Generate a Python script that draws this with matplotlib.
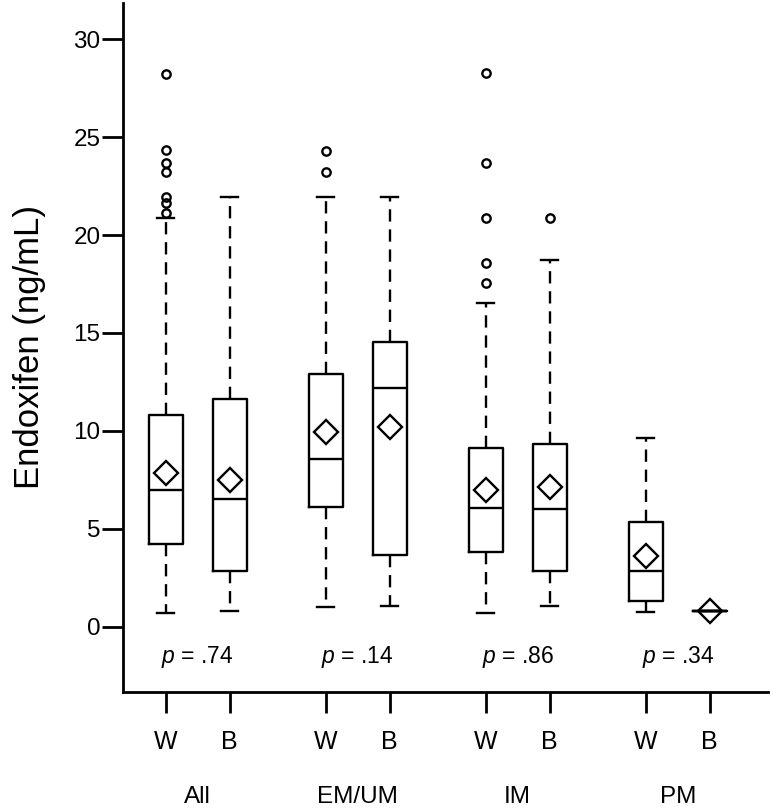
import matplotlib.pyplot as plt
from matplotlib.transforms import blended_transform_factory

plt.rcParams['font.family'] = ['Liberation Sans', 'DejaVu Sans']
plt.rcParams['mathtext.fontset'] = 'custom'
plt.rcParams['mathtext.it'] = 'Liberation Sans:italic'
plt.rcParams['mathtext.rm'] = 'Liberation Sans'

# groups and race labels
groups = ["All", "EM/UM", "IM", "PM"]
races = ["W", "B"]
p_values = [".74", ".14", ".86", ".34"]

# box stats, order: All W, All B, EM/UM W, EM/UM B, IM W, IM B, PM W, PM B
q1 = [4.21, 2.84, 6.13, 3.66, 3.80, 2.86, 1.33, 0.82]
med = [6.98, 6.50, 8.55, 12.17, 6.05, 6.00, 2.84, 0.82]
q3 = [10.81, 11.63, 12.89, 14.56, 9.14, 9.32, 5.36, 0.82]
whislo = [0.68, 0.82, 0.99, 1.07, 0.68, 1.07, 0.73, 0.82]
whishi = [20.89, 21.96, 21.96, 21.96, 16.55, 18.73, 9.62, 0.82]
means = [7.87, 7.49, 9.93, 10.21, 6.98, 7.15, 3.63, 0.82]
fliers = [
    [28.22, 24.35, 23.66, 23.24, 21.96, 21.66, 21.12],
    [],
    [24.30, 23.24],
    [],
    [28.26, 23.67, 20.89, 18.56, 17.57],
    [20.89],
    [],
    [],
]

positions = []
for g in range(len(groups)):
    positions += [1 + 2.5 * g, 2 + 2.5 * g]

stats = []
for i in range(len(q1)):
    stats.append(dict(q1=q1[i], med=med[i], q3=q3[i], whislo=whislo[i],
                      whishi=whishi[i], mean=means[i], fliers=fliers[i]))

fig = plt.figure(figsize=(7.73, 8.08), dpi=100)
ax = fig.add_subplot(111)
fig.subplots_adjust(left=0.1591, right=0.9935, bottom=0.1439, top=0.9963)

lw = 1.7
ax.bxp(stats, positions=positions, widths=0.53, showmeans=True,
       boxprops=dict(color='black', linewidth=lw),
       medianprops=dict(color='black', linewidth=lw),
       whiskerprops=dict(color='black', linewidth=lw, linestyle=(0, (5.2, 3.3))),
       capprops=dict(color='black', linewidth=lw),
       flierprops=dict(marker='o', markerfacecolor='none', markeredgecolor='black',
                       markersize=6, markeredgewidth=1.7),
       meanprops=dict(marker='D', markerfacecolor='none', markeredgecolor='black',
                      markersize=12, markeredgewidth=1.7))

ax.set_xlim(0.333, 10.41)
ax.set_ylim(-3.32, 31.85)
ax.set_yticks([0, 5, 10, 15, 20, 25, 30])
ax.set_xticks(positions)
ax.set_xticklabels(races * len(groups))

for s in ['top', 'right']:
    ax.spines[s].set_visible(False)
for s in ['left', 'bottom']:
    ax.spines[s].set_linewidth(2)

ax.tick_params(axis='both', direction='out', length=15, width=2)
ax.tick_params(axis='y', pad=1.2, labelsize=17.5)
ax.tick_params(axis='x', pad=12.5, labelsize=18)

ax.set_ylabel("Endoxifen (ng/mL)", fontsize=25)
ax.yaxis.set_label_coords(-0.12, 0.5)

trans = blended_transform_factory(ax.transData, ax.transAxes)
for g, name in enumerate(groups):
    center = (positions[2 * g] + positions[2 * g + 1]) / 2
    ax.text(center, -1.87, "$p$ = " + p_values[g], ha='center', va='baseline', fontsize=16.5)
    ax.text(center, -0.1616, name, transform=trans, ha='center', va='baseline', fontsize=17.5)

fig.savefig("out.png", dpi=100)
